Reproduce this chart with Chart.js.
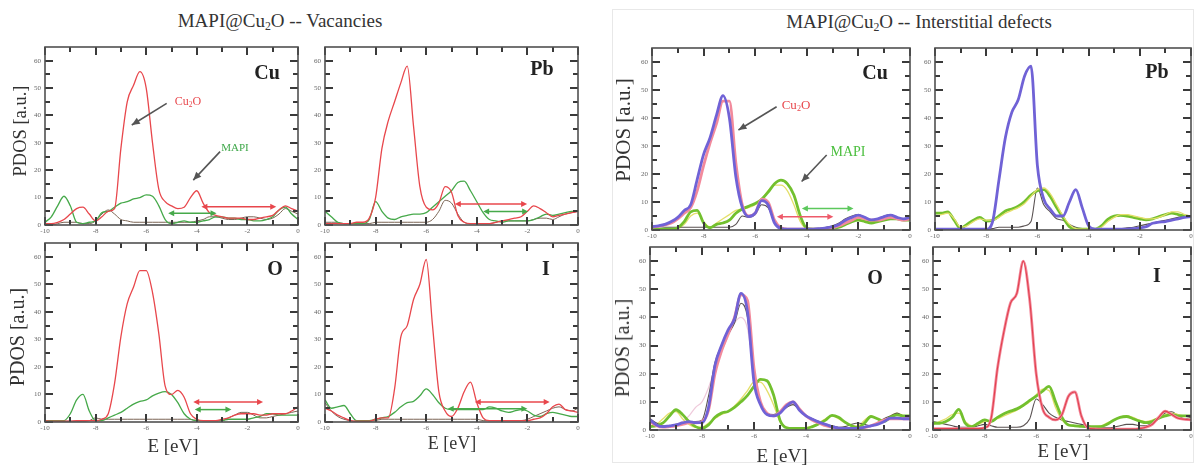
<!DOCTYPE html>
<html><head><meta charset="utf-8">
<script src="https://cdn.jsdelivr.net/npm/chart.js@4.4.1/dist/chart.umd.min.js"></script>
<style>
html,body{margin:0;padding:0;background:#fff;overflow:hidden}
#wrap{position:relative;width:1194px;height:466px;overflow:hidden;background:#fff;font-family:'Liberation Serif','Times New Roman',serif;color:#333}
canvas{position:absolute}
.t{position:absolute;white-space:nowrap;transform:translate(-50%,-50%);line-height:1;font-family:'Liberation Serif','Times New Roman',serif}
.rot{transform:translate(-50%,-50%) rotate(-90deg)}
sub{font-size:62%;vertical-align:-0.3em;line-height:0}
.pl{font-weight:bold;font-size:20px;color:#222}
</style></head><body><div id="wrap">
<div style="position:absolute;left:612px;top:9px;width:580px;height:452px;border:1px solid #e8e8e8"></div>
<div class="t" style="left:280px;top:20px;font-size:19px">MAPI@Cu<sub>2</sub>O -- Vacancies</div>
<div class="t" style="left:919px;top:21px;font-size:19px">MAPI@Cu<sub>2</sub>O -- Interstitial defects</div>
<div class="t rot" style="left:20px;top:131px;font-size:18.5px">PDOS [a.u.]</div>
<div class="t rot" style="left:17px;top:337px;font-size:20px">PDOS [a.u.]</div>
<div class="t rot" style="left:623px;top:130px;font-size:21px">PDOS [a.u.]</div>
<div class="t rot" style="left:622px;top:348px;font-size:20px">PDOS [a.u.]</div>
<div class="t" style="left:173px;top:445px;font-size:19px">E [eV]</div>
<div class="t" style="left:452px;top:443px;font-size:18px">E [eV]</div>
<div class="t" style="left:782px;top:455px;font-size:19px">E [eV]</div>
<div class="t" style="left:1063px;top:450px;font-size:19px">E [eV]</div>
<div class="t pl" style="left:267px;top:72px">Cu</div>
<div class="t pl" style="left:542px;top:68px">Pb</div>
<div class="t pl" style="left:275px;top:268px">O</div>
<div class="t pl" style="left:546px;top:268px">I</div>
<div class="t pl" style="left:875px;top:72px">Cu</div>
<div class="t pl" style="left:1157px;top:71px">Pb</div>
<div class="t pl" style="left:875px;top:277px">O</div>
<div class="t pl" style="left:1157px;top:275px">I</div>
<div class="t" style="left:188px;top:101px;font-size:12px;color:#e8474c">Cu<sub>2</sub>O</div>
<div class="t" style="left:235px;top:147px;font-size:11px;color:#3fa84a">MAPI</div>
<div class="t" style="left:796px;top:104px;font-size:13px;color:#e8474c">Cu<sub>2</sub>O</div>
<div class="t" style="left:848px;top:152px;font-size:14px;color:#4cbf3f">MAPI</div>
</div>
<script>
// ---------- data ----------
const energy = [-10,-9.75,-9.5,-9.25,-9,-8.75,-8.5,-8.25,-8,-7.75,-7.5,-7.25,-7,-6.75,-6.5,-6.25,-6,-5.75,-5.5,-5.25,-5,-4.75,-4.5,-4.25,-4,-3.75,-3.5,-3.25,-3,-2.75,-2.5,-2.25,-2,-1.75,-1.5,-1.25,-1,-0.75,-0.5,-0.25,0];
const xTickLabels = [-10,-8,-6,-4,-2,0];
const xMinorTicks = [-9,-7,-5,-3,-1];
const yTickLabels = [0,10,20,30,40,50,60];
const yMinorTicks = [5,15,25,35,45,55];

// Vacancies
const vacCuRed   = [0.5,0.5,1,2, 4,6,6.5,4, 1.5,3,5,6, 28,45,51,56, 50,30,13,8.5, 7,6,6.5,10, 12.5,8,4.5,3.5, 3,2.5,2.5,2.5, 2,2,2.5,3, 3.5,5.5,7,6, 5];
const vacCuGreen = [1,3,7,10.5, 7,1,0.5,1, 1.5,4.5,5,6.5, 8,8.5,9.5,10, 11,10.5,7,2, 0.5,1,1.5,1, 1,1.5,2,3, 3,2.5,2.5,2, 2,1.5,1.5,2, 3,5.5,6.5,4, 2];
const vacCuDark  = [0,0,0.5,1, 1,1,0.5,0.5, 1.5,4,5.5,4, 2,1.5,1,1, 1,1,1,1, 1,1,1,1, 1.5,2,3,3, 2.5,2,2,2.5, 3,3,2.5,2, 2.5,4,6,5, 4];

const vacPbRed   = [0.5,0.5,0.5,0.5, 0.5,1,1,2.5, 10,28,38,45, 52,58,36,14, 6.5,5.5,8,14, 12,3.5,1,0.5, 0.5,0.5,0.5,1, 1.5,2,2.5,3, 5,7,6,4.5, 3,3.5,4,4.5, 5];
const vacPbGreen = [5,3,1,0.5, 0.5,0.5,0.5,2, 8.5,5,2.5,2, 3,3.5,4,4, 4.5,6.5,8.5,10.5, 12.5,15.5,16,12.5, 8.5,4.5,2,1.5, 1,1.5,1.5,1.5, 1.5,2,3,4, 3.5,4,4.5,5, 5];
const vacPbDark  = [1,1,1,0.5, 0.5,0.5,0.5,0.5, 1,1,1,1, 1,1,1,1, 1,2,5,9, 8,4,1,0.5, 0.5,0.5,0.5,1, 1.5,1.5,1.5,1.5, 1.5,2,2.5,2.5, 2,3,4,4.5, 5];

const vacORed    = [0.5,0.3,0.3,0.3, 0.3,0.5,0.5,0.5, 0.5,1,3,14, 31,43,49,55, 55,47,32,13, 10,11.5,9,3, 1,0.5,0.5,0.5, 1,1.5,2.5,3, 3,3,2.5,2.5, 3,3,3,4, 5.5];
const vacOGreen  = [0.5,0.5,0.5,0.5, 3,8,10,4, 0.5,0.5,1.5,2.5, 3.5,5,6.5,7.5, 8,9.5,10.5,11, 10,7,3,1, 0.5,0.5,0.5,0.5, 0.5,1,1,1, 1,1.5,2,3, 3,2.5,2.5,2.5, 2.5];
const vacODark   = [0.5,0.5,0.3,0.3, 0.3,0.3,0.3,0.5, 1.5,1,1,1, 1,1,1,1, 1,1,1,1, 1,1,1,1, 0.5,0.5,0.5,0.5, 0.5,1.5,2.5,3.5, 3.5,2.5,1.5,1.5, 2,2.5,3,3.5, 4];

const vacIRed    = [5,4,2.5,1.5, 0.5,0.3,0.3,0.3, 1,1.5,1.5,12, 31,35,44.5,50, 59,35,11,4, 2,5,11,14.5, 7,1.5,0.5,0.5, 0.5,0.5,0.5,0.5, 0.5,1,1.5,3, 5.5,6.5,4.5,4, 3.5];
const vacIGreen  = [8,5,5.5,6, 3,0.5,0.5,0.5, 1,1.5,2,3.5, 5.5,7,7.5,9.5, 12,10,7,5, 4.5,4.5,4.5,4.5, 4.5,4.5,5.5,5, 4,3.5,4,4.5, 4,2.5,2,3, 3.5,3,2.5,2, 2];
const vacIDark   = [7,4,2,1, 0.5,0.3,0.3,0.3, 0.5,1,1,1, 1,1,1,1, 1,1,1,1, 1,1,1,1, 1,0.5,0.5,0.5, 0.5,0.5,0.5,0.5, 1,2,3,4, 5,5.5,4.5,4, 5];

// Interstitial defects
const intCuPurple = [1.2,1.5,2,3, 4.5,7,9,18, 27,33,41,48, 40,19,8,4.8, 6,10.5,9,2.5, 0.5,0.3,0.3,0.3, 0.3,0.3,0.5,0.8, 1.2,2,3.5,4.5, 5.3,4.5,3.6,4, 4.8,5.3,4.5,4, 4.5];
const intCuPink   = [1,1.3,1.8,2.5, 4,6,8,14, 23,31,38,46, 46,24,9,5, 6,11,10,3.5, 0.8,0.3,0.3,0.3, 0.3,0.3,0.3,0.5, 0.8,1.5,2.5,3.5, 4.5,4,3.5,3.5, 4,4.5,4,3.5, 4];
const intCuGreen  = [0.3,0.3,0.3,0.3, 0.8,3,6.5,7, 2.5,0.8,2,2.5, 3.5,6,7.5,8.5, 9.5,11,13.5,16.5, 17.8,16.5,12.5,5, 0.6,0.3,0.3,0.3, 0.5,1,2,3, 3.5,3,2.5,3, 3.5,4,4,3.5, 3.5];
const intCuYellow = [0.3,0.3,0.3,0.3, 0.5,2,5,6, 3,1,2.5,4, 5.5,7,7.5,8, 9,11,14,16, 16,14,9,3, 0.5,0.3,0.3,0.5, 1,1.5,2.5,3.5, 4,3.5,3,3.5, 4,4.5,4.5,4, 4];
const intCuDark   = [1.5,1.2,1,1, 1,1,1,1, 1,1,1,1, 1,2,5,4.5, 5.5,9,8,3, 1,0.5,0.5,0.5, 0.5,0.5,0.5,1, 1.5,2.5,4,5, 5.5,4.5,3.5,4, 5,5.5,4.5,4, 5];

const intPbPurple = [0.3,0.3,0.3,0.3, 0.3,0.3,0.3,0.3, 0.3,3,18,33, 42,46.5,55,58.5, 23,11,7.5,5, 5,10,14.4,8, 1.5,0.3,0.3,0.3, 0.3,0.3,0.3,0.5, 0.8,1.2,2.4,2.8, 3,3.5,4,4.5, 4.8];
const intPbGreen  = [6,6,6.5,3.5, 0.6,2,3.5,4.5, 3.2,3.5,5,6.8, 7.5,8.5,10.2,12.5, 14,14.4,12,8, 4.5,1.2,0.4,0.3, 0.3,0.3,1.5,3.8, 5,5.2,5,4.5, 4,3.6,4,4.8, 5.5,6,5.5,5, 4.8];
const intPbYellow = [5,5.5,6,4, 1,1.5,3,4, 3.5,3.5,4.5,6, 7,8,9.5,12, 14.5,15,13,9, 5,2,0.5,0.3, 0.3,0.5,1,3, 4.5,5.5,5.5,5, 4.5,4,4,4.5, 5.5,6.5,6.5,5.5, 5];
const intPbDark   = [0.3,0.3,0.3,0.3, 0.3,0.3,0.3,0.3, 0.3,0.5,1,1, 1,1,1.5,3, 15,9,6.5,4, 3.5,2,1,0.5, 0.3,0.3,0.3,0.3, 0.3,0.5,0.8,1, 1.5,2,2.5,3, 3.5,4,4.5,5, 5];

const intOPurple  = [3.6,1.8,1.2,1.5, 1.8,2.5,3,2.6, 2.6,8,23,30, 35.5,39.5,48.5,42, 17,9,5.5,5, 6,8.5,10,7, 5,3.8,2.8,2, 1.2,0.7,0.6,0.6, 0.6,1,1.5,2, 3,4.2,4.2,4, 4];
const intOPink    = [3,1.5,1,1.2, 1.5,2,2.5,2.5, 3,7,20,28, 34,40,48,46, 22,10,6,5, 6.5,9,10,7.5, 5,3.5,2.5,1.5, 1,0.6,0.6,0.6, 0.6,0.8,1.5,2.5, 3.5,4,4,4, 4];
const intOLight   = [3,2,1.5,1.5, 2,3,5,8, 10,15,22,28, 33,38,40,36, 20,10,6,5, 6,8,9.5,7, 5,3.5,2.5,1.5, 1,0.6,0.6,0.6, 0.6,0.8,1.5,2.5, 3.5,4,4,4, 4];
const intOGreen   = [1.2,1.5,2.5,5, 7.2,5.5,3,1.2, 0.6,1.8,4.5,6, 6.6,8,10,12.3, 15.5,18,17.5,12.5, 3.5,0.8,0.6,0.6, 0.6,1.2,2.2,3.5, 5.2,4.5,2.8,1.5, 0.8,2.5,4.8,4, 3,4.5,5.4,5, 5];
const intOYellow  = [1,2,4,6, 6.5,4,2,1, 1,2.5,4,5.5, 6.5,8.5,11,14, 17,17,14,9, 3,1,0.6,0.6, 0.8,1.5,2.5,4, 5,4,2.5,1.5, 1.5,3.5,5,4, 3.5,5,6,5, 4.5];
const intODark    = [4,2.5,1.5,1.5, 2,2.5,3,3, 3.5,12,24,30, 34,38,45,40, 18,9.5,6,5.5, 6.5,8,9,7, 5,4,3,2, 1.5,1,1.2,2, 2.5,2,1.5,2.5, 4,5,6,5, 4.5];

const intIPink    = [0.5,0.5,0.5,0.5, 0.5,0.5,0.5,0.5, 0.8,4,22,35, 45,48.5,60,46, 20,7.5,4.5,3.6, 5.5,12,13.5,5, 0.8,0.4,0.3,0.3, 0.3,0.3,0.3,0.3, 0.5,1,2,4.5, 6.7,5.5,4.2,3.8, 3.6];
const intIGreen   = [2.4,2.4,3,4.5, 7.3,2.4,1.2,2.4, 3.6,3,4.5,5.8, 6.7,7.5,8.8,10.5, 12,13.8,15.5,10, 4.5,1.8,1.5,1.3, 1.2,1.2,1.2,2, 3.5,4.5,4.8,4, 3.2,2.6,3,4.2, 5,5.5,5,5, 5];
const intIYellow  = [2,3,4,5.5, 6,3,1.5,2, 3,3.5,4,5, 6,7,8.5,10, 12.5,14.5,14,8, 3.5,2,1.5,1.3, 1.2,1.2,1.5,2.5, 3.5,4.5,5,4.5, 3.5,3,3.5,4.5, 5.5,6,5.5,5, 5];
const intIDark    = [3,2.5,2,1.5, 1,1,1,1.5, 2,1.5,1,1, 1,1,1.5,4, 11,9,6,4.5, 3.5,3,2.5,2, 1.5,1,0.8,0.8, 1,1.5,2,2, 1.5,1.5,2.5,4, 6,6.5,5,4, 4.5];

// annotation arrows [E1, y1, E2, y2] and double arrows [Estart, Eend, y, colour key]
const vacCuArrows = [[-5.19,44.4,-6.57,36.5],[-3.08,26.8,-4.14,16.4]];
const vacCuSpans  = [[-3.82,-0.86,6.7,'r'],[-5.13,-3.22,4.3,'g']];
const vacPbSpans  = [[-4.87,-2.01,7.7,'r'],[-3.75,-1.97,4.9,'g']];
const vacOSpans   = [[-4.14,-1.38,7.3,'r'],[-4.08,-2.63,4.5,'g']];
const vacISpans   = [[-4.08,-1.12,7.3,'r'],[-5.15,-2.0,4.8,'g']];
const intCuArrows = [[-5.17,44,-6.65,35.7],[-3.23,26.8,-4.2,17.3]];
const intCuSpans  = [[-4.19,-2.19,7.7,'g'],[-5.16,-2.97,4.75,'r']];

// ---------- styles & layout ----------
const ST = {
  vred:{c:'#e8474c',w:1.3}, vgreen:{c:'#46a94a',w:1.3}, vdark:{c:'#7a6454',w:1},
  purple:{c:'#7062d6',w:2.8}, pink:{c:'#f28a9c',w:2.8}, igreen:{c:'#72c02e',w:2.8},
  yellow:{c:'#e4df6a',w:1.3}, idark:{c:'#5a5252',w:1.1}, light:{c:'#efcadb',w:1.2}, ired:{c:'#e2404e',w:1.1}
};
const SPANCOL = {vac:{r:'#e8474c',g:'#46a94a'}, int:{r:'#ee5a6a',g:'#5cc85c'}};
const YW = 22, XH = 14, PT = 10, PR = 6;

const panels = [
  {id:'vacCu', grp:'vac', area:{l:45,t:47,r:298,b:225}, series:[[vacCuDark,'vdark'],[vacCuGreen,'vgreen'],[vacCuRed,'vred']], arrows:vacCuArrows, spans:vacCuSpans},
  {id:'vacPb', grp:'vac', area:{l:325,t:47,r:578,b:225}, series:[[vacPbDark,'vdark'],[vacPbGreen,'vgreen'],[vacPbRed,'vred']], arrows:[], spans:vacPbSpans},
  {id:'vacO',  grp:'vac', area:{l:45,t:243,r:298,b:422}, series:[[vacODark,'vdark'],[vacOGreen,'vgreen'],[vacORed,'vred']], arrows:[], spans:vacOSpans},
  {id:'vacI',  grp:'vac', area:{l:325,t:243,r:578,b:422}, series:[[vacIDark,'vdark'],[vacIGreen,'vgreen'],[vacIRed,'vred']], arrows:[], spans:vacISpans},
  {id:'intCu', grp:'int', area:{l:652,t:48,r:910,b:230}, series:[[intCuYellow,'yellow'],[intCuDark,'idark'],[intCuGreen,'igreen'],[intCuPink,'pink'],[intCuPurple,'purple']], arrows:intCuArrows, spans:intCuSpans},
  {id:'intPb', grp:'int', area:{l:935,t:48,r:1191,b:230}, series:[[intPbDark,'idark'],[intPbGreen,'igreen'],[intPbYellow,'yellow'],[intPbPurple,'purple']], arrows:[], spans:[]},
  {id:'intO',  grp:'int', area:{l:650,t:247,r:910,b:430}, series:[[intOLight,'light'],[intOYellow,'yellow'],[intODark,'idark'],[intOGreen,'igreen'],[intOPink,'pink'],[intOPurple,'purple']], arrows:[], spans:[]},
  {id:'intI',  grp:'int', area:{l:933,t:247,r:1191,b:430}, series:[[intIDark,'idark'],[intIYellow,'yellow'],[intIGreen,'igreen'],[intIPink,'pink'],[intIPink,'ired']], arrows:[], spans:[]}
];
const annByCanvas = {};

function drawFrameTicks(chart){
  const ctx = chart.ctx, a = chart.chartArea;
  const x = chart.scales.x, y = chart.scales.y;
  ctx.save();
  ctx.fillStyle = '#3a3a3a';
  const vTick = (v, L) => {
    const px = Math.round(x.getPixelForValue(v));
    ctx.fillRect(px - 1, a.bottom - L, 2, L);
    ctx.fillRect(px - 1, a.top, 2, L);
  };
  const hTick = (v, L) => {
    const py = Math.round(y.getPixelForValue(v));
    ctx.fillRect(a.left, py - 1, L, 2);
    ctx.fillRect(a.right - L, py - 1, L, 2);
  };
  for (const v of xTickLabels) vTick(v, 8);
  for (const v of xMinorTicks) vTick(v, 5);
  for (const v of yTickLabels) hTick(v, 8);
  for (const v of yMinorTicks) hTick(v, 5);
  ctx.lineWidth = 1.6; ctx.strokeStyle = '#505050';
  ctx.strokeRect(a.left, a.top, a.right - a.left, a.bottom - a.top);
  ctx.restore();
}

function head(ctx, x1, y1, x2, y2, len, hw){
  const ang = Math.atan2(y2 - y1, x2 - x1);
  ctx.beginPath();
  ctx.moveTo(x2, y2);
  ctx.lineTo(x2 - len*Math.cos(ang) + hw*Math.sin(ang), y2 - len*Math.sin(ang) - hw*Math.cos(ang));
  ctx.lineTo(x2 - len*Math.cos(ang) - hw*Math.sin(ang), y2 - len*Math.sin(ang) + hw*Math.cos(ang));
  ctx.closePath(); ctx.fill();
}
const annot = {
  id:'annot',
  afterDraw(chart){
    drawFrameTicks(chart);
    const p = annByCanvas[chart.canvas.id]; if (!p) return;
    const ctx = chart.ctx;
    const x = chart.scales.x, y = chart.scales.y;
    ctx.save();
    p.arrows.forEach(([e1,v1,e2,v2]) => {
      const x1 = x.getPixelForValue(e1), y1 = y.getPixelForValue(v1);
      const x2 = x.getPixelForValue(e2), y2 = y.getPixelForValue(v2);
      ctx.strokeStyle = '#555'; ctx.fillStyle = '#555'; ctx.lineWidth = 1.6;
      ctx.beginPath(); ctx.moveTo(x1,y1); ctx.lineTo(x2,y2); ctx.stroke();
      head(ctx, x1, y1, x2, y2, 8, 3.5);
    });
    p.spans.forEach(([e1,e2,v,k]) => {
      const col = SPANCOL[p.grp][k];
      const x1 = x.getPixelForValue(e1), x2 = x.getPixelForValue(e2), yy = y.getPixelForValue(v);
      ctx.strokeStyle = col; ctx.fillStyle = col; ctx.lineWidth = 1.5;
      ctx.beginPath(); ctx.moveTo(x1+3,yy); ctx.lineTo(x2-3,yy); ctx.stroke();
      head(ctx, x2, yy, x1, yy, 6, 3);
      head(ctx, x1, yy, x2, yy, 6, 3);
    });
    ctx.restore();
  }
};

Chart.defaults.font.family = "'Liberation Serif','Times New Roman',serif";
const wrap = document.getElementById('wrap');
panels.forEach(p => {
  const a = p.area;
  const cv = document.createElement('canvas');
  cv.id = p.id;
  const w = a.r - a.l + YW + PR, h = a.b - a.t + PT + XH;
  cv.width = w; cv.height = h;
  cv.style.left = (a.l - YW) + 'px'; cv.style.top = (a.t - PT) + 'px';
  cv.style.width = w + 'px'; cv.style.height = h + 'px';
  wrap.insertBefore(cv, wrap.children[1]);
  annByCanvas[p.id] = p;
  const datasets = p.series.slice().reverse().map(([arr, key]) => ({
    data: energy.map((e, i) => ({x: e, y: arr[i]})),
    borderColor: ST[key].c, borderWidth: ST[key].w,
    pointRadius: 0, fill: false, cubicInterpolationMode: 'monotone', borderJoinStyle: 'round'
  }));
  new Chart(cv, {
    type: 'line',
    data: {datasets},
    options: {
      responsive: false, animation: false, devicePixelRatio: 1, events: [],
      layout: {padding: {top: PT, right: PR, left: 0, bottom: 0}},
      plugins: {legend: {display: false}, tooltip: {enabled: false}},
      scales: {
        x: {type: 'linear', min: -10, max: 0,
            afterFit: s => { s.height = XH; },
            afterBuildTicks: s => { s.ticks = xTickLabels.map(v => ({value: v})); },
            ticks: {font: {size: 7}, color: '#666', padding: 2, maxRotation: 0, autoSkip: false, callback: v => String(v)},
            grid: {display: false, drawTicks: false}, border: {display: false}},
        y: {type: 'linear', min: 0, max: 65,
            afterFit: s => { s.width = YW; },
            afterBuildTicks: s => { s.ticks = yTickLabels.map(v => ({value: v})); },
            ticks: {font: {size: 7}, color: '#666', padding: 4, callback: v => String(v)},
            grid: {display: false, drawTicks: false}, border: {display: false}}
      }
    },
    plugins: [annot]
  });
});
</script>
</body></html>
